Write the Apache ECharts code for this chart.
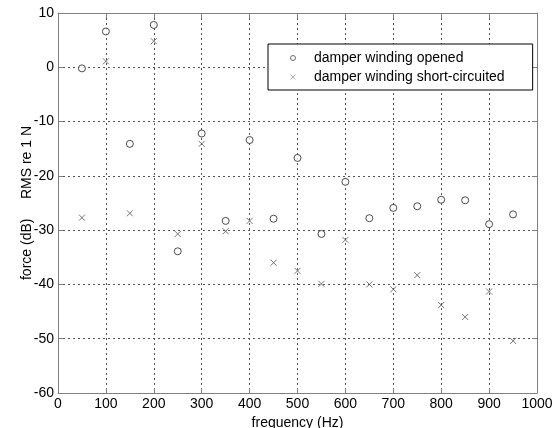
<!DOCTYPE html>
<html>
<head>
<meta charset="utf-8">
<script src="https://cdn.jsdelivr.net/npm/echarts@6/dist/echarts.min.js"></script>
<style>html,body{margin:0;padding:0;background:#fff}#c{width:557px;height:428px}</style>
</head>
<body>
<div id="c"></div>
<script>
const frequencies = [50,100,150,200,250,300,350,400,450,500,550,600,650,700,750,800,850,900,950];
const openedValues = [-0.2,6.6,-14.1,7.8,-33.9,-12.2,-28.3,-13.4,-27.9,-16.7,-30.7,-21.1,-27.8,-25.9,-25.6,-24.4,-24.5,-28.9,-27.1];
const shortValues = [-27.7,1.1,-26.9,4.8,-30.7,-14.1,-30.2,-28.3,-36.0,-37.5,-39.9,-31.8,-40.0,-40.9,-38.3,-43.8,-46.0,-41.3,-50.4];
const xTicks = {min:0, max:1000, interval:100};
const yTicks = {min:-60, max:10, interval:10};
const seriesNames = ['damper winding opened','damper winding short-circuited'];

const FONT = 'Liberation Sans, Arial, Helvetica, sans-serif';
const crossPath = 'path://M0,0L10,10M10,0L0,10';
const chart = echarts.init(document.getElementById('c'), null, {renderer:'canvas'});
const axisLine = {show:true, onZero:false, lineStyle:{color:'#808080', width:1}};
const tick = {show:true, inside:true, length:5, lineStyle:{color:'#808080'}};
const grid = {show:true, lineStyle:{color:'#555', width:1, type:[2,3]}};
const plain = v => String(v);
chart.setOption({
  animation:false,
  backgroundColor:'#fff',
  grid:{left:58, right:20, top:13, bottom:35, outerBoundsMode:'none', containLabel:false},
  legend:{
    orient:'vertical', left:268, top:44,
    padding:[7,28,6,20], itemGap:5,
    itemWidth:8, itemHeight:5,
    backgroundColor:'#fff', borderColor:'#000', borderWidth:1,
    textStyle:{fontFamily:FONT, fontSize:14, color:'#000', padding:[0,0,0,12]},
    data:[
      {name:seriesNames[0], itemStyle:{color:'#fff', borderColor:'#222', borderWidth:0.8}},
      {name:seriesNames[1], itemStyle:{color:'none', borderColor:'#888', borderWidth:0.8}}
    ]
  },
  xAxis:[{
    type:'value', min:xTicks.min, max:xTicks.max, interval:xTicks.interval,
    name:'frequency (Hz)', nameLocation:'middle', nameGap:19,
    nameTextStyle:{fontFamily:FONT, fontSize:14, color:'#000'},
    axisLine, axisTick:tick, splitLine:grid,
    axisLabel:{fontFamily:FONT, fontSize:14, color:'#000', margin:4, formatter:plain}
  },{
    type:'value', position:'top', min:xTicks.min, max:xTicks.max, interval:xTicks.interval,
    axisLine, axisTick:tick, splitLine:{show:false}, axisLabel:{show:false}
  }],
  yAxis:[{
    type:'value', min:yTicks.min, max:yTicks.max, interval:yTicks.interval,
    name:'force (dB)     RMS re 1 N', nameLocation:'middle', nameGap:24, nameMoveOverlap:false,
    nameTextStyle:{fontFamily:FONT, fontSize:14, color:'#000'},
    axisLine, axisTick:tick, splitLine:grid,
    axisLabel:{fontFamily:FONT, fontSize:14, color:'#000', margin:4, formatter:plain}
  },{
    type:'value', position:'right', min:yTicks.min, max:yTicks.max, interval:yTicks.interval,
    axisLine, axisTick:tick, splitLine:{show:false}, axisLabel:{show:false}
  }],
  series:[{
    name:seriesNames[0], type:'scatter', symbol:'circle', symbolSize:7,
    itemStyle:{color:'#fff', borderColor:'#222', borderWidth:1},
    data:frequencies.map((f,i)=>[f, openedValues[i]])
  },{
    name:seriesNames[1], type:'scatter', symbol:crossPath, symbolSize:6,
    itemStyle:{color:'none', borderColor:'#555', borderWidth:1},
    data:frequencies.map((f,i)=>[f, shortValues[i]])
  }]
});
</script>
</body>
</html>
